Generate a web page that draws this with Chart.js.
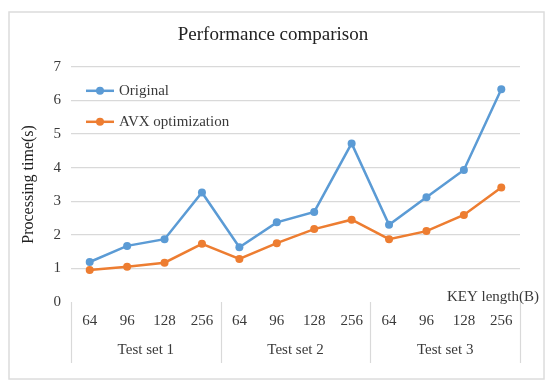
<!DOCTYPE html>
<html>
<head>
<meta charset="utf-8">
<script src="https://cdn.jsdelivr.net/npm/chart.js@4.4.1/dist/chart.umd.min.js"></script>
<style>
  html, body { margin: 0; padding: 0; background: #ffffff; }
  #wrap { width: 550px; height: 389px; position: relative; }
</style>
</head>
<body>
<div id="wrap"><canvas id="c" width="550" height="389"></canvas></div>
<script>
const keyLengths = ['64', '96', '128', '256', '64', '96', '128', '256', '64', '96', '128', '256'];
const testSets = ['Test set 1', 'Test set 2', 'Test set 3'];
const originalTimes = [1.19, 1.67, 1.87, 3.26, 1.63, 2.37, 2.68, 4.72, 2.30, 3.12, 3.93, 6.33];
const avxTimes = [0.95, 1.05, 1.17, 1.73, 1.28, 1.75, 2.17, 2.45, 1.87, 2.11, 2.59, 3.41];
const yTicks = [0, 1, 2, 3, 4, 5, 6, 7];

const BLUE = '#5B9BD5';
const ORANGE = '#ED7D31';
const GRID = '#d9d9d9';
const FONT = "'Liberation Serif', 'Times New Roman', serif";
const TEXT = '#3a3a3a';

const decor = {
  id: 'decor',
  beforeDraw(chart) {
    const ctx = chart.ctx;
    ctx.save();
    ctx.strokeStyle = '#dcdcdc';
    ctx.lineWidth = 1.5;
    ctx.strokeRect(9, 12, 535, 367);
    ctx.restore();
  },
  afterDraw(chart) {
    const ctx = chart.ctx;
    const ca = chart.chartArea;
    const xs = chart.scales.x;
    const x2 = chart.scales.x2;
    const half = (xs.getPixelForValue(1) - xs.getPixelForValue(0)) / 2;
    ctx.save();
    // group separators
    ctx.strokeStyle = GRID;
    ctx.lineWidth = 1.2;
    const per = keyLengths.length / testSets.length;
    for (let g = 0; g <= testSets.length; g++) {
      const idx = g * per;
      const px = Math.round(xs.getPixelForValue(Math.min(idx, keyLengths.length - 1)) + (idx >= keyLengths.length ? half : -half)) + 0.5;
      ctx.beginPath();
      ctx.moveTo(px, ca.bottom);
      ctx.lineTo(px, x2.bottom);
      ctx.stroke();
    }
    // axis caption
    ctx.fillStyle = TEXT;
    ctx.font = "15px " + FONT;
    ctx.textAlign = 'right';
    ctx.textBaseline = 'middle';
    ctx.fillText('KEY length(B)', ca.right + 19, ca.bottom - 5);
    // legend
    const items = chart.data.datasets;
    items.forEach((ds, i) => {
      const y = ca.top + 24 + i * 31;
      const x0 = ca.left + 15;
      ctx.strokeStyle = ds.borderColor;
      ctx.lineWidth = 2.5;
      ctx.beginPath();
      ctx.moveTo(x0, y);
      ctx.lineTo(x0 + 28, y);
      ctx.stroke();
      ctx.fillStyle = ds.borderColor;
      ctx.beginPath();
      ctx.arc(x0 + 14, y, 4, 0, Math.PI * 2);
      ctx.fill();
      ctx.fillStyle = TEXT;
      ctx.textAlign = 'left';
      ctx.fillText(ds.label, x0 + 33, y);
    });
    ctx.restore();
  }
};

new Chart(document.getElementById('c'), {
  type: 'line',
  data: {
    labels: keyLengths,
    datasets: [
      {
        label: 'Original',
        data: originalTimes,
        borderColor: BLUE,
        backgroundColor: BLUE,
        borderWidth: 2.5,
        pointRadius: 4,
        pointBorderWidth: 0,
        pointBackgroundColor: BLUE,
        tension: 0
      },
      {
        label: 'AVX optimization',
        data: avxTimes,
        borderColor: ORANGE,
        backgroundColor: ORANGE,
        borderWidth: 2.5,
        pointRadius: 4,
        pointBorderWidth: 0,
        pointBackgroundColor: ORANGE,
        tension: 0
      }
    ]
  },
  options: {
    responsive: false,
    animation: false,
    devicePixelRatio: 1,
    layout: { padding: { left: 26, right: 30, top: 0, bottom: 26 } },
    plugins: {
      legend: { display: false },
      tooltip: { enabled: false },
      title: {
        display: true,
        text: 'Performance comparison',
        color: '#222',
        font: { family: FONT, size: 19, weight: 'normal' },
        padding: { top: 24, bottom: 20 }
      }
    },
    scales: {
      x: {
        type: 'category',
        position: 'bottom',
        offset: true,
        grid: { display: false, drawTicks: false, offset: true },
        border: { display: false },
        ticks: { color: TEXT, font: { family: FONT, size: 15 }, padding: 10, maxRotation: 0, autoSkip: false },
        afterFit: s => { s.height = 33; }
      },
      x2: {
        type: 'category',
        position: 'bottom',
        labels: testSets,
        offset: true,
        grid: { display: false, drawTicks: false },
        border: { display: false },
        ticks: { color: TEXT, font: { family: FONT, size: 15 }, padding: 6, maxRotation: 0, autoSkip: false },
        afterFit: s => { s.height = 28; }
      },
      y: {
        min: yTicks[0],
        max: yTicks[yTicks.length - 1],
        afterBuildTicks: s => { s.ticks = yTicks.map(v => ({ value: v })); },
        grid: {
          color: c => (c.tick && c.tick.value === 0) ? 'rgba(0,0,0,0)' : GRID,
          lineWidth: 1.2,
          drawTicks: false
        },
        border: { display: false },
        ticks: { color: TEXT, font: { family: FONT, size: 15 }, padding: 10 },
        title: {
          display: true,
          text: 'Processing time(s)',
          color: '#222',
          font: { family: FONT, size: 16 },
          padding: { top: -7, bottom: 0 }
        },
        afterFit: s => { s.width = 45; }
      }
    }
  },
  plugins: [decor]
});
</script>
</body>
</html>
